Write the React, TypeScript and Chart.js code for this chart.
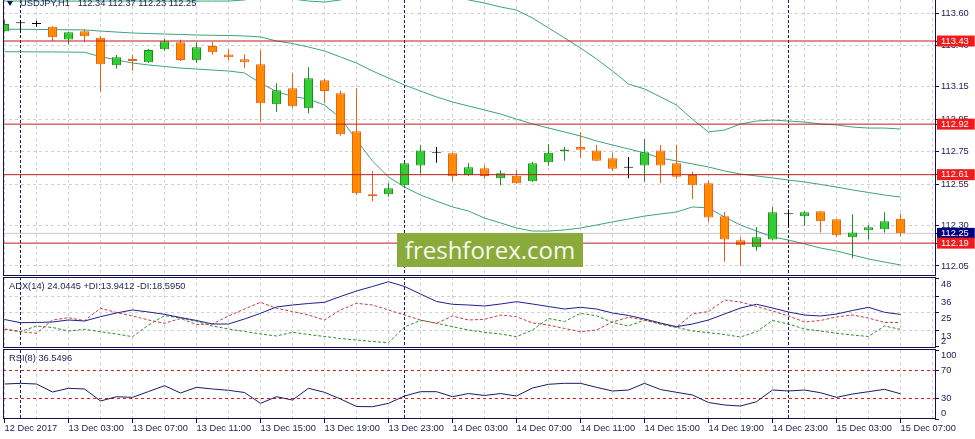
import React, { useEffect, useRef } from 'react';
import { Chart, registerables } from 'chart.js';

Chart.register(...registerables);

// ---------------- data ----------------
const dateLabels = [
  '12 Dec 2017', '13 Dec 03:00', '13 Dec 07:00', '13 Dec 11:00', '13 Dec 15:00',
  '13 Dec 19:00', '13 Dec 23:00', '14 Dec 03:00', '14 Dec 07:00', '14 Dec 11:00',
  '14 Dec 15:00', '14 Dec 19:00', '14 Dec 23:00', '15 Dec 03:00', '15 Dec 07:00',
];
const daySeparators = [1, 25, 49];

const opens = [
  113.490, 113.539, 113.534, 113.518, 113.440, 113.490, 113.450, 113.281, 113.320, 113.299,
  113.379, 113.422, 113.312, 113.399, 113.348, 113.318, 113.287, 113.042, 113.140, 113.017,
  113.189, 113.109, 112.876, 112.490, 112.490, 112.545, 112.667, 112.745, 112.741, 112.606,
  112.649, 112.588, 112.604, 112.569, 112.686, 112.753, 112.780, 112.759, 112.710, 112.653,
  112.667, 112.759, 112.680, 112.608, 112.557, 112.355, 112.207, 112.164, 112.213, 112.367,
  112.355, 112.385, 112.336, 112.226, 112.269, 112.275, 112.340,
];
const highs = [
  113.559, 113.559, 113.555, 113.520, 113.485, 113.502, 113.461, 113.344, 113.344, 113.381,
  113.442, 113.440, 113.422, 113.424, 113.379, 113.348, 113.375, 113.171, 113.234, 113.269,
  113.199, 113.125, 113.140, 112.632, 112.557, 112.682, 112.790, 112.780, 112.745, 112.682,
  112.669, 112.637, 112.637, 112.688, 112.796, 112.782, 112.872, 112.794, 112.745, 112.718,
  112.829, 112.792, 112.792, 112.628, 112.575, 112.381, 112.226, 112.289, 112.412, 112.397,
  112.385, 112.387, 112.338, 112.367, 112.299, 112.379, 112.370,
];
const lows = [
  113.488, 113.479, 113.518, 113.432, 113.410, 113.422, 113.119, 113.260, 113.248, 113.297,
  113.371, 113.307, 113.297, 113.346, 113.314, 113.263, 112.935, 112.996, 113.020, 112.987,
  113.050, 112.850, 112.485, 112.447, 112.475, 112.534, 112.616, 112.683, 112.573, 112.603,
  112.585, 112.545, 112.555, 112.567, 112.665, 112.696, 112.714, 112.694, 112.633, 112.588,
  112.567, 112.557, 112.585, 112.459, 112.321, 112.076, 112.051, 112.143, 112.210, 112.299,
  112.297, 112.256, 112.226, 112.097, 112.213, 112.256, 112.230,
];
const closes = [
  113.534, 113.539, 113.534, 113.453, 113.483, 113.459, 113.287, 113.330, 113.307, 113.375,
  113.428, 113.313, 113.391, 113.361, 113.330, 113.299, 113.048, 113.128, 113.029, 113.201,
  113.123, 112.858, 112.496, 112.477, 112.526, 112.680, 112.759, 112.745, 112.600, 112.655,
  112.602, 112.618, 112.557, 112.680, 112.745, 112.765, 112.763, 112.696, 112.647, 112.653,
  112.747, 112.667, 112.598, 112.545, 112.348, 112.213, 112.177, 112.226, 112.379, 112.367,
  112.379, 112.324, 112.238, 112.256, 112.287, 112.324, 112.250,
];
const bbUpper = [
  113.675, 113.675, 113.675, 113.675, 113.675, 113.675, 113.675, 113.675, 113.675, 113.675,
  113.675, 113.675, 113.675, 113.675, 113.675, 113.682, 113.700, 113.700, 113.688, 113.675,
  113.669, 113.682, 113.712, 113.740, 113.760, 113.770, 113.760, 113.740, 113.710, 113.682,
  113.663, 113.639, 113.620, 113.571, 113.510, 113.449, 113.387, 113.320, 113.246, 113.166,
  113.136, 113.087, 113.037, 112.950, 112.872, 112.884, 112.921, 112.939, 112.945, 112.939,
  112.933, 112.921, 112.915, 112.902, 112.896, 112.896, 112.890,
];
const bbMiddle = [
  113.502, 113.502, 113.501, 113.500, 113.499, 113.498, 113.491, 113.485, 113.479, 113.476,
  113.473, 113.470, 113.467, 113.465, 113.464, 113.461, 113.455, 113.430, 113.415, 113.393,
  113.369, 113.332, 113.295, 113.246, 113.203, 113.160, 113.123, 113.087, 113.056, 113.031,
  113.007, 112.982, 112.951, 112.921, 112.896, 112.872, 112.847, 112.817, 112.792, 112.768,
  112.743, 112.712, 112.694, 112.676, 112.657, 112.633, 112.614, 112.602, 112.590, 112.577,
  112.565, 112.550, 112.534, 112.516, 112.501, 112.485, 112.473,
];
const bbLower = [
  113.364, 113.364, 113.363, 113.363, 113.362, 113.361, 113.334, 113.314, 113.295, 113.283,
  113.274, 113.264, 113.258, 113.252, 113.246, 113.234, 113.172, 113.120, 113.090, 113.074,
  113.037, 112.958, 112.823, 112.694, 112.596, 112.534, 112.485, 112.448, 112.412, 112.387,
  112.344, 112.314, 112.283, 112.264, 112.264, 112.271, 112.283, 112.301, 112.320, 112.338,
  112.356, 112.369, 112.381, 112.412, 112.406, 112.350, 112.301, 112.264, 112.228, 112.209,
  112.185, 112.160, 112.142, 112.117, 112.093, 112.074, 112.056,
];
const levels = [113.43, 112.92, 112.61, 112.19];
const bidPrice = 112.25;
const priceTicks = [113.6, 113.4, 113.15, 112.95, 112.75, 112.55, 112.3, 112.05];

const adx = [
  20.60, 18.43, 18.57, 18.91, 20.26, 19.58, 22.49, 25.00, 27.03, 25.67,
  24.12, 21.95, 19.92, 17.55, 17.55, 20.94, 24.79, 29.06, 30.41, 31.42,
  32.24, 36.16, 39.88, 42.93, 46.17, 42.93, 37.85, 32.78, 30.88, 30.41,
  29.73, 31.08, 32.64, 31.08, 29.39, 27.70, 28.85, 27.70, 25.00, 23.30,
  20.94, 18.23, 15.73, 17.55, 20.26, 24.32, 28.38, 30.88, 28.38, 25.67,
  23.64, 22.97, 24.32, 26.69, 28.85, 25.47, 24.04,
];
const plusDI = [
  13.97, 12.34, 16.20, 15.18, 12.82, 13.97, 12.34, 10.79, 8.96, 16.88,
  23.17, 21.61, 19.24, 16.20, 14.17, 12.48, 10.79, 9.43, 11.94, 10.45,
  9.10, 7.74, 6.73, 5.71, 4.90, 15.52, 20.06, 18.03, 15.73, 13.49,
  11.94, 10.79, 8.96, 13.49, 21.27, 19.24, 24.79, 23.17, 18.57, 16.20,
  20.26, 17.55, 15.32, 12.82, 11.67, 10.45, 8.76, 12.34, 19.92, 17.55,
  14.17, 12.82, 11.26, 10.11, 9.10, 16.20, 13.94,
];
const minusDI = [
  14.17, 12.34, 11.26, 20.26, 21.82, 19.79, 28.18, 25.33, 22.97, 20.26,
  18.03, 21.27, 17.21, 17.55, 22.97, 27.70, 32.24, 28.18, 26.01, 23.64,
  20.26, 27.03, 31.56, 30.41, 27.03, 23.64, 20.26, 18.03, 22.97, 20.26,
  20.73, 23.64, 22.49, 18.23, 16.88, 14.51, 12.34, 13.49, 18.91, 22.09,
  20.26, 17.55, 15.32, 24.32, 26.01, 33.79, 32.44, 29.39, 26.35, 22.97,
  18.91, 19.92, 22.29, 23.64, 21.61, 18.60, 18.60,
];
const adxTicks = [48, 36, 25, 13, 2];
const adxGridLevels = [36, 25, 13];

const rsi = [
  50.7, 51.7, 50.7, 39.1, 44.5, 43.5, 26.1, 32.3, 31.4, 39.8,
  48.3, 37.7, 45.9, 43.5, 41.6, 38.4, 22.7, 32.3, 27.5, 44.5,
  38.7, 29.0, 18.1, 17.8, 22.7, 33.3, 39.6, 39.6, 32.3, 36.9,
  34.1, 36.9, 33.3, 44.9, 50.3, 51.7, 51.7, 45.9, 40.6, 42.0,
  51.7, 42.7, 38.7, 34.8, 23.9, 20.3, 18.8, 25.1, 42.0, 40.6,
  42.0, 38.1, 31.4, 36.2, 39.6, 43.0, 36.55,
];
const rsiTicks = [100, 70, 30, 0];
const rsiLevels = [70, 30];

// ---------------- layout / style ----------------
const W = 975;
const X_MIN = -0.09375;
const X_MAX = 58.15625;
const PRICE_MIN = 111.9945;
const PRICE_MAX = 113.6816;
const ADX_MIN = 1.315;
const ADX_MAX = 49.353;

const FONT = '"Liberation Sans", Arial, sans-serif';
const TXT = '#1b1b52';
const FRAME = '#12124e';
const GRID_COLOR = '#d0d0d0';
const SEP_COLOR = '#1a1a6e';
const NONE = 'rgba(0,0,0,0)';
const UP_FILL = '#33cc33';
const UP_EDGE = '#1f8f1f';
const DOWN_FILL = '#ff8c00';
const DOWN_EDGE = '#e8621a';
const DOJI = '#000000';
const BAND = '#3fa37a';
const LEVEL_LINE = '#c41a1a';
const LEVEL_BG = '#ee1c1c';
const BID_BG = '#000080';
const BID_LINE = '#c8c8c8';

const tickFont = { family: FONT, size: 9.3, lineHeight: 1.18 };
const idx = opens.map((_, i) => i);
const dir = (i: number) => (closes[i] > opens[i] ? 1 : closes[i] < opens[i] ? -1 : 0);
const bodyFill = (i: number) => (dir(i) > 0 ? UP_FILL : dir(i) < 0 ? DOWN_FILL : DOJI);
const edgeColor = (i: number) => (dir(i) > 0 ? UP_EDGE : dir(i) < 0 ? DOWN_EDGE : DOJI);
const isTag = (v: number) => v === bidPrice || levels.includes(v);

function xScale(showLabels: boolean): any {
  const gridSteps = Array.from({ length: 30 }, (_, i) => i * 2);
  return {
    type: 'linear',
    min: X_MIN,
    max: X_MAX,
    offset: false,
    bounds: 'data',
    afterBuildTicks: (s: any) => {
      s.ticks = [...gridSteps, ...daySeparators].map((v) => ({ value: v }));
    },
    afterFit: (s: any) => {
      s.height = showLabels ? 20 : 0;
      s.paddingLeft = 0; s.paddingRight = 0; s.paddingTop = 0; s.paddingBottom = 0;
    },
    grid: {
      offset: false,
      drawOnChartArea: true,
      drawTicks: showLabels,
      tickLength: 4,
      lineWidth: 1,
      color: (c: any) => (daySeparators.includes(c.tick?.value) ? SEP_COLOR : GRID_COLOR),
      tickColor: (c: any) => (c.tick && c.tick.value % 4 === 0 ? FRAME : NONE),
    },
    border: {
      display: false,
      dash: (c: any) => (daySeparators.includes(c.tick?.value) ? [3, 2] : [3, 3]),
    },
    ticks: {
      display: showLabels,
      autoSkip: false,
      maxRotation: 0,
      minRotation: 0,
      align: 'start',
      padding: 0,
      color: TXT,
      font: tickFont,
      callback: (v: number) => (v % 4 === 0 && dateLabels[v / 4] !== undefined ? dateLabels[v / 4] : ''),
    },
  };
}

function yBase(min: number, max: number, tickValues: number[], gridColor: (v: number) => string, dash: number[], label: (v: number) => any): any {
  return {
    type: 'linear',
    position: 'right',
    min,
    max,
    bounds: 'data',
    beginAtZero: false,
    afterBuildTicks: (s: any) => {
      s.ticks = tickValues.map((v) => ({ value: v }));
    },
    afterFit: (s: any) => {
      s.width = 40;
      s.paddingTop = 0; s.paddingBottom = 0; s.paddingLeft = 0; s.paddingRight = 0;
    },
    grid: {
      drawTicks: true,
      tickLength: 4,
      tickColor: FRAME,
      color: (c: any) => gridColor(c.tick?.value),
    },
    border: { display: false, dash },
    ticks: {
      autoSkip: false,
      padding: 2,
      font: tickFont,
      color: TXT,
      callback: (v: number) => label(v),
    },
  };
}

const common: any = {
  responsive: false,
  animation: false,
  devicePixelRatio: 1,
  events: [],
  plugins: { legend: { display: false }, tooltip: { enabled: false }, title: { display: false } },
  elements: { point: { radius: 0 } },
};

function mainConfig(): any {
  const y = yBase(
    PRICE_MIN, PRICE_MAX,
    [...priceTicks, bidPrice, ...levels],
    (v) => (priceTicks.includes(v) ? GRID_COLOR : NONE),
    [3, 3],
    (v) => Number(v).toFixed(2),
  );
  y.ticks.color = (c: any) => (isTag(c.tick?.value) ? '#ffffff' : TXT);
  y.ticks.showLabelBackdrop = (c: any) => isTag(c.tick?.value);
  y.ticks.backdropColor = (c: any) => (c.tick?.value === bidPrice ? BID_BG : LEVEL_BG);
  y.ticks.backdropPadding = { left: 4, right: 6, top: 0, bottom: 0 };

  const line = (values: number[], color: string, order: number) => ({
    type: 'line',
    data: idx.map((i) => ({ x: i, y: values[i] })),
    borderColor: color,
    borderWidth: 1,
    pointRadius: 0,
    tension: 0,
    fill: false,
    order,
  });
  const hLine = (value: number, color: string, order: number) => ({
    type: 'line',
    data: [{ x: X_MIN, y: value }, { x: X_MAX, y: value }],
    borderColor: color,
    borderWidth: 1,
    pointRadius: 0,
    fill: false,
    order,
  });

  return {
    type: 'bar',
    data: {
      datasets: [
        ...levels.map((l) => hLine(l, LEVEL_LINE, 0)),
        {
          type: 'bar',
          data: idx.map((i) => ({ x: i, y: [opens[i], closes[i]] })),
          backgroundColor: (c: any) => bodyFill(c.dataIndex),
          borderColor: (c: any) => edgeColor(c.dataIndex),
          borderWidth: 1,
          borderSkipped: false,
          barThickness: 9,
          minBarLength: 1,
          grouped: false,
          inflateAmount: 0,
          order: 1,
        },
        {
          type: 'bar',
          data: idx.map((i) => ({ x: i, y: [lows[i], highs[i]] })),
          backgroundColor: (c: any) => edgeColor(c.dataIndex),
          borderWidth: 0,
          barThickness: 1,
          grouped: false,
          inflateAmount: 0,
          order: 2,
        },
        line(bbUpper, BAND, 3),
        line(bbMiddle, BAND, 3),
        line(bbLower, BAND, 3),
        hLine(bidPrice, BID_LINE, 4),
      ],
    },
    options: {
      ...common,
      layout: { padding: { left: 3, top: 0, right: 0, bottom: 0 } },
      scales: { x: xScale(false), y },
    },
  };
}

function adxConfig(): any {
  const series = (values: number[], color: string, dash: number[], order: number) => ({
    data: idx.map((i) => ({ x: i, y: values[i] })),
    borderColor: color,
    borderWidth: 1,
    borderDash: dash,
    pointRadius: 0,
    tension: 0,
    fill: false,
    order,
  });
  const last = adxTicks[adxTicks.length - 1];
  return {
    type: 'line',
    data: {
      datasets: [
        series(adx, '#1f1f8f', [], 0),
        series(minusDI, '#c43c3c', [3, 2], 1),
        series(plusDI, '#2f8a2f', [3, 2], 2),
      ],
    },
    options: {
      ...common,
      layout: { padding: { left: 3, top: 0, right: 0, bottom: 0 } },
      scales: {
        x: xScale(false),
        y: yBase(
          ADX_MIN, ADX_MAX, adxTicks,
          (v) => (adxGridLevels.includes(v) ? GRID_COLOR : NONE),
          [3, 3],
          (v) => (v === last ? [String(v), ''] : ['', String(v)]),
        ),
      },
    },
  };
}

function rsiConfig(): any {
  return {
    type: 'line',
    data: {
      datasets: [
        {
          data: idx.map((i) => ({ x: i, y: rsi[i] })),
          borderColor: '#1a1a66',
          borderWidth: 1,
          pointRadius: 0,
          tension: 0,
          fill: false,
        },
      ],
    },
    options: {
      ...common,
      layout: { padding: { left: 3, top: 1, right: 0, bottom: 0 } },
      scales: {
        x: xScale(true),
        y: yBase(
          0, 100, rsiTicks,
          (v) => (rsiLevels.includes(v) ? '#d42020' : NONE),
          [3, 3],
          (v) => (v === rsiTicks[0] ? ['', String(v)] : v === rsiTicks[rsiTicks.length - 1] ? [String(v), ''] : String(v)),
        ),
      },
    },
  };
}

function ChartCanvas({ top, height, make }: { top: number; height: number; make: () => any }) {
  const ref = useRef<HTMLCanvasElement | null>(null);
  useEffect(() => {
    const chart = new Chart(ref.current as HTMLCanvasElement, make());
    return () => chart.destroy();
  }, []);
  return (
    <canvas
      ref={ref}
      width={W}
      height={height}
      style={{ position: 'absolute', left: 0, top, width: W, height, display: 'block' }}
    />
  );
}

const frameStyle = (top: number, height: number): React.CSSProperties => ({
  position: 'absolute',
  left: 3,
  top,
  width: 933,
  height,
  boxSizing: 'border-box',
  border: `1px solid ${FRAME}`,
  pointerEvents: 'none',
});

const labelStyle = (left: number, top: number): React.CSSProperties => ({
  position: 'absolute',
  left,
  top,
  font: `9.3px ${FONT}`,
  lineHeight: '11px',
  color: '#23235a',
  whiteSpace: 'pre',
});

export default function App() {
  const n = opens.length - 1;
  const ohlc = [opens[n], highs[n], lows[n], closes[n]].map((v) => v.toFixed(2)).join(' ');
  return (
    <div style={{ position: 'absolute', left: 0, top: 0, width: W, height: 439, background: '#ffffff', overflow: 'hidden' }}>
      <ChartCanvas top={0} height={275} make={mainConfig} />
      <ChartCanvas top={277} height={71} make={adxConfig} />
      <ChartCanvas top={349} height={90} make={rsiConfig} />
      <div style={frameStyle(-1, 277)} />
      <div style={frameStyle(277, 71)} />
      <div style={frameStyle(349, 70)} />
      <div
        style={{
          position: 'absolute', left: 7, top: 1, width: 0, height: 0,
          borderLeft: '3px solid transparent', borderRight: '3px solid transparent',
          borderTop: `5px solid #14145a`,
        }}
      />
      <div style={labelStyle(20, -2)}>{`USDJPY,H1   ${ohlc}`}</div>
      <div style={labelStyle(9, 281)}>ADX(14) 24.0445 +DI:13.9412 -DI:18.5950</div>
      <div style={labelStyle(9, 353)}>RSI(8) 36.5496</div>
      <div
        style={{
          position: 'absolute', left: 397, top: 233, width: 186, height: 34,
          background: '#8aab3c', color: '#f6f8f0', textAlign: 'center',
          font: '24px "Open Sans", sans-serif', lineHeight: '34px',
        }}
      >
        freshforex.com
      </div>
    </div>
  );
}
